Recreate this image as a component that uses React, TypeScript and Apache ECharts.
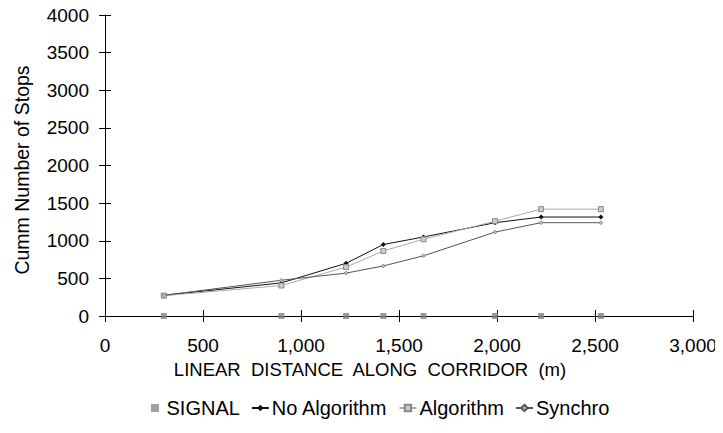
import React, { useEffect, useRef } from "react";
import * as echarts from "echarts";

const distances = [300, 900, 1230, 1420, 1625, 1990, 2225, 2530];
const signal = [0, 0, 0, 0, 0, 0, 0, 0];
const noAlgorithm = [275, 440, 700, 950, 1050, 1240, 1315, 1315];
const algorithm = [270, 405, 650, 865, 1020, 1260, 1420, 1420];
const synchro = [275, 475, 570, 665, 800, 1115, 1240, 1240];

const font = "'Liberation Sans', Arial, sans-serif";

function pairs(vals: number[]) {
  return distances.map((d, i) => [d, vals[i]]);
}

export default function App() {
  const ref = useRef<HTMLDivElement>(null);
  useEffect(() => {
    if (!ref.current) return;
    const chart = echarts.init(ref.current, undefined, { renderer: "svg" });
    const axisLine = { lineStyle: { color: "#000", width: 1 } };
    chart.setOption({
      animation: false,
      backgroundColor: "#fff",
      grid: { left: 105, right: 30, top: 15, bottom: 117 },
      legend: {
        top: 393,
        left: 146,
        itemGap: 11,
        itemWidth: 17,
        itemHeight: 8,
        textStyle: { fontFamily: font, fontSize: 20, color: "#000", padding: [0, 0, 0, -2] },
        data: [
          { name: "SIGNAL", icon: "path://M0,0h1v1h-1z", itemStyle: { color: "#888" } },
          { name: "No Algorithm" },
          { name: "Algorithm" },
          { name: "Synchro" },
        ],
      },
      xAxis: [
        {
          type: "value",
          min: 0,
          max: 3000,
          interval: 500,
          name: "LINEAR  DISTANCE  ALONG  CORRIDOR  (m)",
          nameLocation: "middle",
          nameGap: 44,
          nameTextStyle: { fontFamily: font, fontSize: 18.5, color: "#000", padding: [0, 58, 0, 0] },
          axisLine,
          axisTick: { show: true, length: 6, lineStyle: { color: "#000" } },
          axisLabel: {
            fontFamily: font,
            fontSize: 19,
            color: "#000",
            margin: 20,
            formatter: (v: number) => v.toLocaleString("en-US"),
          },
          splitLine: { show: false },
        },
        {
          type: "value",
          position: "bottom",
          min: 0,
          max: 3000,
          interval: 500,
          axisLine: { show: false },
          axisTick: { show: true, inside: true, length: 6, lineStyle: { color: "#000" } },
          axisLabel: { show: false },
          splitLine: { show: false },
        },
      ],
      yAxis: [
        {
          type: "value",
          min: 0,
          max: 4000,
          interval: 500,
          name: "Cumm Number of Stops",
          nameLocation: "middle",
          nameGap: 73,
          nameTextStyle: { fontFamily: font, fontSize: 19.5, color: "#000", padding: [0, 9, 0, 0] },
          axisLine,
          axisTick: { show: true, length: 6, lineStyle: { color: "#000" } },
          axisLabel: {
            fontFamily: font,
            fontSize: 19,
            color: "#000",
            margin: 16,
            formatter: (v: number) => String(v),
          },
          splitLine: { show: false },
        },
        {
          type: "value",
          position: "left",
          min: 0,
          max: 4000,
          interval: 500,
          axisLine: { show: false },
          axisTick: { show: true, inside: true, length: 6, lineStyle: { color: "#000" } },
          axisLabel: { show: false },
          splitLine: { show: false },
        },
      ],
      series: [
        {
          name: "SIGNAL",
          type: "scatter",
          data: pairs(signal),
          symbol: "rect",
          symbolSize: 6,
          itemStyle: { color: "#808080" },
          z: 5,
        },
        {
          name: "No Algorithm",
          type: "line",
          data: pairs(noAlgorithm),
          symbol: "diamond",
          symbolSize: 5,
          lineStyle: { color: "#111", width: 1 },
          itemStyle: { color: "#111" },
        },
        {
          name: "Algorithm",
          type: "line",
          data: pairs(algorithm),
          symbol: "rect",
          symbolSize: 5,
          lineStyle: { color: "#aaa", width: 1 },
          itemStyle: { color: "#ccc", borderColor: "#888", borderWidth: 1 },
        },
        {
          name: "Synchro",
          type: "line",
          data: pairs(synchro),
          symbol: "diamond",
          symbolSize: 4,
          lineStyle: { color: "#555", width: 1 },
          itemStyle: { color: "#bbb", borderColor: "#555", borderWidth: 0.5 },
        },
      ],
    });
    return () => chart.dispose();
  }, []);
  return <div ref={ref} style={{ width: 723, height: 433, margin: -8 }} />;
}
